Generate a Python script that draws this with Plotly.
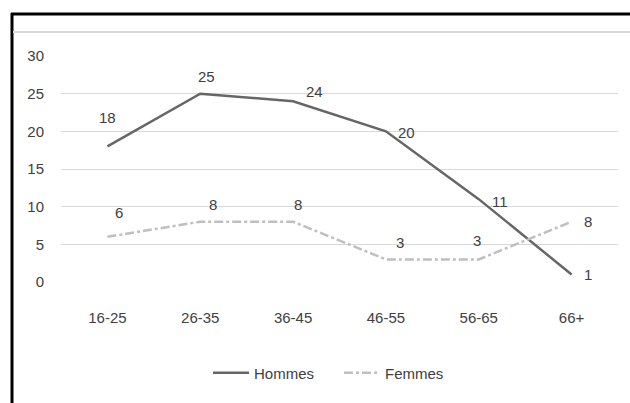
import plotly.graph_objects as go

categories = ["16-25", "26-35", "36-45", "46-55", "56-65", "66+"]
hommes = [18, 25, 24, 20, 11, 1]
femmes = [6, 8, 8, 3, 3, 8]
y_ticks = [0, 5, 10, 15, 20, 25, 30]

# label offsets in pixels (style only)
hommes_off = [(0, 29), (6, 17), (21, 10), (21, -1), (21, -2), (16, 0)]
femmes_off = [(12, 24), (13, 17), (5, 17), (14, 17), (-2, 19), (16, 0)]

FONT = "Liberation Sans, Arial, sans-serif"
TXT = "#404040"
FS = 15

fig = go.Figure()
fig.add_trace(go.Scatter(
    x=categories, y=hommes, name="Hommes", mode="lines",
    line=dict(color="#666666", width=2.5),
    cliponaxis=False,
))
fig.add_trace(go.Scatter(
    x=categories, y=femmes, name="Femmes", mode="lines",
    line=dict(color="#bfbfbf", width=2.5, dash="dashdot"),
    cliponaxis=False,
))

annotations = []
for series, offs in ((hommes, hommes_off), (femmes, femmes_off)):
    for c, v, (dx, dy) in zip(categories, series, offs):
        annotations.append(dict(
            x=c, y=v, xref="x", yref="y", text=str(v), showarrow=False,
            xshift=dx, yshift=dy, font=dict(size=FS, color=TXT, family=FONT),
        ))

L, R, T, B = 61, 12, 56, 121
W, H = 630, 403
pw, ph = W - L - R, H - T - B

def px(x):
    return (x - L) / pw

def py(y):
    return (H - B - y) / ph

shapes = [
    dict(type="line", xref="paper", yref="paper", x0=px(11), x1=px(631), y0=py(14), y1=py(14),
         line=dict(color="black", width=3)),
    dict(type="line", xref="paper", yref="paper", x0=px(12), x1=px(12), y0=py(13), y1=py(404),
         line=dict(color="black", width=3)),
    dict(type="line", xref="paper", yref="paper", x0=px(13), x1=px(631), y0=py(32), y1=py(32),
         line=dict(color="#d9d9d9", width=2)),
]

fig.update_layout(
    width=W, height=H,
    margin=dict(l=L, r=R, t=T, b=B),
    paper_bgcolor="white", plot_bgcolor="white",
    font=dict(family=FONT, size=FS, color=TXT),
    shapes=shapes,
    annotations=annotations,
    showlegend=True,
    legend=dict(orientation="h", x=px(208), xanchor="left", y=py(373), yanchor="middle",
                font=dict(size=FS, color=TXT, family=FONT), itemwidth=36, entrywidth=80),
    xaxis=dict(range=[-0.5, 5.5], showgrid=False, showline=False, zeroline=False, ticks="",
               ticklabelstandoff=25, tickfont=dict(size=FS, color=TXT)),
    yaxis=dict(range=[0, 30], tickvals=y_ticks, showgrid=True, gridcolor="#d9d9d9", gridwidth=1,
               zeroline=False, showline=False, ticks="", ticklabelstandoff=16,
               tickfont=dict(size=FS, color=TXT)),
)

fig.write_html("out.html", config={"displayModeBar": False},
               post_script="document.body.style.margin='0px';document.body.style.padding='0px';")
